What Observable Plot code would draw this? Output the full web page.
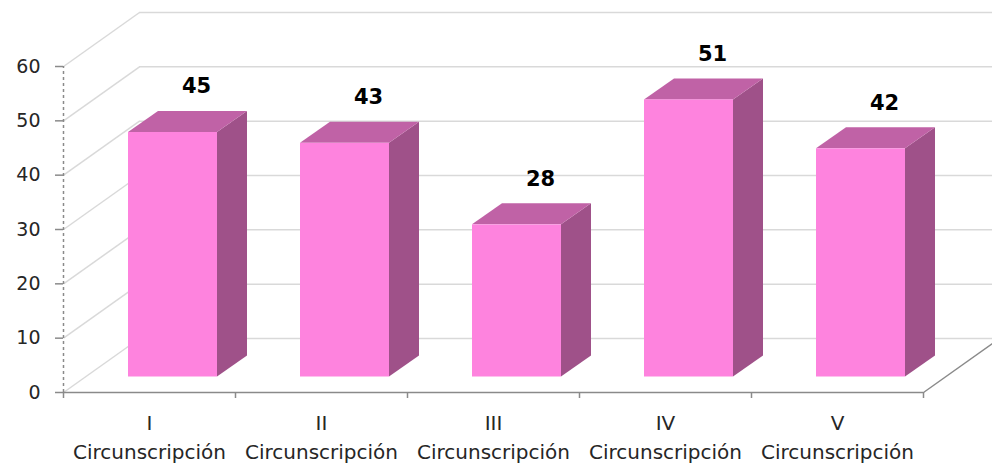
<!DOCTYPE html>
<html>
<head>
<meta charset="utf-8">
<script src="https://cdn.jsdelivr.net/npm/d3@7"></script>
<script src="https://cdn.jsdelivr.net/npm/@observablehq/plot@0.6"></script>
<style>
  html, body { margin: 0; padding: 0; background: #ffffff; }
  #chart svg { display: block; }
</style>
</head>
<body>
<div id="chart"></div>
<script>
// ---- data ----
const categories = ["I", "II", "III", "IV", "V"];
const values = [45, 43, 28, 51, 42];
const yTicks = [0, 10, 20, 30, 40, 50, 60];
const subLabel = "Circunscripción";

// ---- layout (pixels) ----
const W = 992, H = 465;
const mL = 63, mR = 69, mT = 66, mB = 73;
const xMax = categories.length, yMax = 60;
const pxX = (W - mL - mR) / xMax;   // px per x unit
const pxY = (H - mT - mB) / yMax;   // px per y unit

// wall depth (px -> units)
const wallX = 76 / pxX, wallY = 54 / pxY;
// bar geometry
const halfW = 44.5 / pxX;
const barDX = 30 / pxX, barDY = 21 / pxY;
const frontDx = 23.5, frontDy = -15.5;

const colFront = "#FE83DE", colTop = "#C062A6", colSide = "#9F5189";
const gridCol = "#D9D9D9", axisCol = "#8A8A8A";
const font = "'DejaVu Sans', 'Open Sans', sans-serif";

const rows = values.map((v, i) => ({cat: categories[i], v, i, a: i + 0.5 - halfW, b: i + 0.5 + halfW, c: i + 0.5}));
const topFaces = rows.flatMap(r => [
  {i: r.i, y: r.v, x1: r.a, x2: r.b},
  {i: r.i, y: r.v + barDY, x1: r.a + barDX, x2: r.b + barDX}
]);
const sideFaces = rows.flatMap(r => [
  {i: r.i, x: r.b, y1: 0, y2: r.v},
  {i: r.i, x: r.b + barDX, y1: barDY, y2: r.v + barDY}
]);

const chart = Plot.plot({
  width: W, height: H,
  marginLeft: mL, marginRight: mR, marginTop: mT, marginBottom: mB,
  x: {type: "linear", domain: [0, xMax], axis: null, label: null},
  y: {type: "linear", domain: [0, yMax], axis: null, label: null},
  style: {fontFamily: font, background: "#ffffff", color: "#333"},
  marks: [
    // back wall gridlines
    Plot.ruleY(yTicks, {y: d => d + wallY, x1: wallX, x2: xMax + mR / pxX, stroke: gridCol, strokeWidth: 1.5}),
    // side wall diagonals
    Plot.link(yTicks, {x1: 0, y1: d => d, x2: wallX, y2: d => d + wallY, stroke: gridCol, strokeWidth: 1.5}),
    // floor right edge
    Plot.link([0], {x1: xMax, y1: 0, x2: xMax + wallX, y2: wallY, stroke: axisCol, strokeWidth: 1.5}),
    // front baseline
    Plot.ruleY([0], {x1: 0, x2: xMax, stroke: axisCol, strokeWidth: 1.5}),
    // dashed y axis line
    Plot.ruleX([0], {y1: 0, y2: yMax, stroke: axisCol, strokeWidth: 1.5, strokeDasharray: "3,3"}),
    Plot.axisY(yTicks, {tickSize: 8, tickPadding: 15, fontSize: 19, stroke: axisCol, strokeWidth: 1.5, fill: "#262626", label: null}),
    Plot.axisX(d3.range(0, xMax + 1), {tickSize: 6, tickFormat: () => "", stroke: axisCol, strokeWidth: 1.5, label: null}),
    // bars: side, top, front
    Plot.areaY(sideFaces, {x: "x", y1: "y1", y2: "y2", z: "i", fill: colSide, dx: frontDx, dy: frontDy}),
    Plot.areaX(topFaces, {y: "y", x1: "x1", x2: "x2", z: "i", fill: colTop, dx: frontDx, dy: frontDy}),
    Plot.rect(rows, {x1: "a", x2: "b", y1: 0, y2: "v", fill: colFront, dx: frontDx, dy: frontDy}),
    // value labels
    Plot.text(rows, {x: "c", y: "v", text: d => String(d.v), dx: 47, dy: frontDy - 46, fontSize: 21, fontWeight: "bold", fill: "#000"}),
    // category labels
    Plot.text(rows, {x: "c", y: 0, text: d => d.cat + "\n" + subLabel, lineAnchor: "top", lineHeight: 1.45, dy: 17, fontSize: 20, fill: "#262626"})
  ]
});
document.getElementById("chart").appendChild(chart);
</script>
</body>
</html>
